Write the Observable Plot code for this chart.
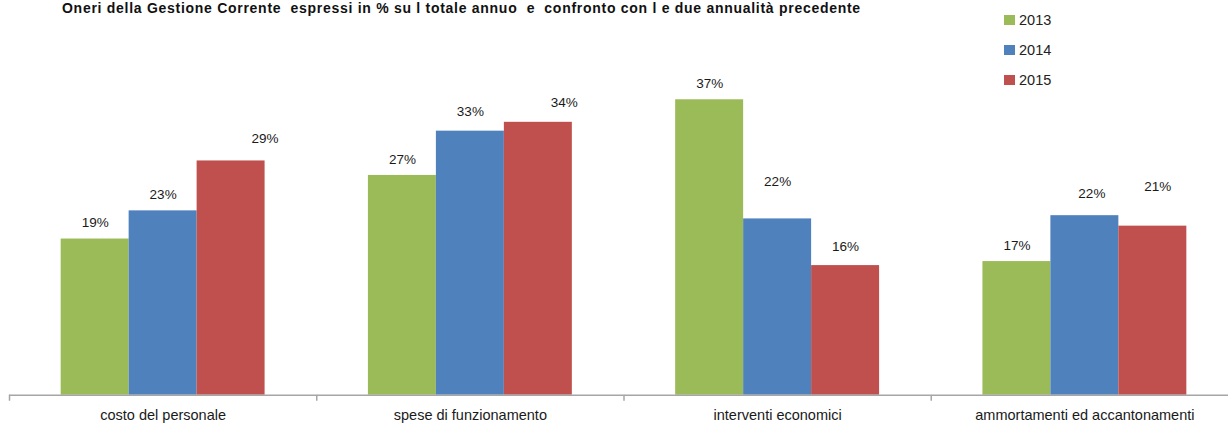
<!DOCTYPE html>
<html>
<head>
<meta charset="utf-8">
<script src="https://cdn.jsdelivr.net/npm/d3@7"></script>
<script src="https://cdn.jsdelivr.net/npm/@observablehq/plot@0.6"></script>
<style>
  html, body { margin: 0; padding: 0; background: #fff; }
  #wrap { position: relative; width: 1228px; height: 424px; overflow: hidden; font-family: "Liberation Sans", Arial, sans-serif; }
  #title { position: absolute; left: 62px; top: 0px; font-weight: bold; font-size: 14px; letter-spacing: 0.72px; color: #111; white-space: pre; line-height: 16px; }
  #legend { position: absolute; left: 1004px; top: 5px; font-size: 14.5px; color: #222; }
  .li { display: flex; align-items: center; height: 30px; }
  .sw { width: 11px; height: 10px; margin-right: 4px; }
  #chart { position: absolute; left: 0; top: 0; }
</style>
</head>
<body>
<div id="wrap">
  <div id="chart"></div>
  <div id="title"></div>
  <div id="legend"></div>
</div>
<script>
const titleText = "Oneri della Gestione Corrente  espressi in % su l totale annuo  e  confronto con l e due annualità precedente";
const categories = ["costo del personale", "spese di funzionamento", "interventi economici", "ammortamenti ed accantonamenti"];
const years = ["2013", "2014", "2015"];
const values2013 = [19.4, 27.3, 36.7, 16.6];
const values2014 = [22.9, 32.8, 21.9, 22.3];
const values2015 = [29.1, 33.9, 16.1, 21.0];
const colors = ["#9BBB59", "#4F81BD", "#C0504D"];

// label nudges (style only): [dx, dy] per category/year
const labelNudge = {
  "costo del personale|2015": [34, -22],
  "spese di funzionamento|2014": [0, -19],
  "spese di funzionamento|2015": [26, -20],
  "interventi economici|2014": [0, -37],
  "interventi economici|2015": [0, -19],
  "ammortamenti ed accantonamenti|2014": [7, -22],
  "ammortamenti ed accantonamenti|2015": [5, -39]
};

const seriesValues = [values2013, values2014, values2015];
const data = [];
categories.forEach((c, i) => years.forEach((y, j) => data.push({category: c, year: y, value: seriesValues[j][i]})));

document.getElementById("title").textContent = titleText;
const legend = document.getElementById("legend");
years.forEach((y, j) => {
  const row = document.createElement("div");
  row.className = "li";
  row.innerHTML = `<span class="sw" style="background:${colors[j]}"></span><span>${y}</span>`;
  legend.appendChild(row);
});

const W = 1228, mL = 9, mR = -10;
const bandW = (W - mL - mR) / categories.length;
const pOuter = 0.76;
const step = bandW / (years.length + 2 * pOuter);
const firstCenter = pOuter * step + step / 2;

const labelMarks = data.map(d => {
  const n = labelNudge[d.category + "|" + d.year] || [0, -16];
  return Plot.text([d], {
    fx: "category", x: "year", y: "value",
    text: d => Math.round(d.value) + "%",
    dx: n[0], dy: n[1], fontSize: 13.5, fill: "#1a1a1a"
  });
});

const tickData = categories.map(c => ({category: c, year: years[0]}));

const chart = Plot.plot({
  width: W,
  height: 424,
  marginLeft: mL,
  marginRight: mR,
  marginTop: 72.7,
  marginBottom: 29.3,
  style: {fontFamily: "'Liberation Sans', Arial, sans-serif", background: "transparent"},
  fx: {domain: categories, padding: 0, round: false, label: null},
  x: {domain: years, paddingInner: 0, paddingOuter: pOuter, round: false, axis: null},
  y: {domain: [0, 40], axis: null},
  color: {domain: years, range: colors},
  marks: [
    Plot.barY(data, {fx: "category", x: "year", y: "value", fill: "year"}),
    Plot.ruleY([0], {stroke: "#a6a6a6", strokeWidth: 1.5}),
    Plot.ruleX(tickData, {fx: "category", x: "year", y1: 0, y2: -0.75, dx: -firstCenter, stroke: "#a6a6a6", strokeWidth: 1.5}),
    Plot.axisFx({anchor: "bottom", tickSize: 0, tickPadding: 15, fontSize: 14.5, fill: "#1a1a1a", label: null}),
    ...labelMarks
  ]
});
document.getElementById("chart").appendChild(chart);
</script>
</body>
</html>
